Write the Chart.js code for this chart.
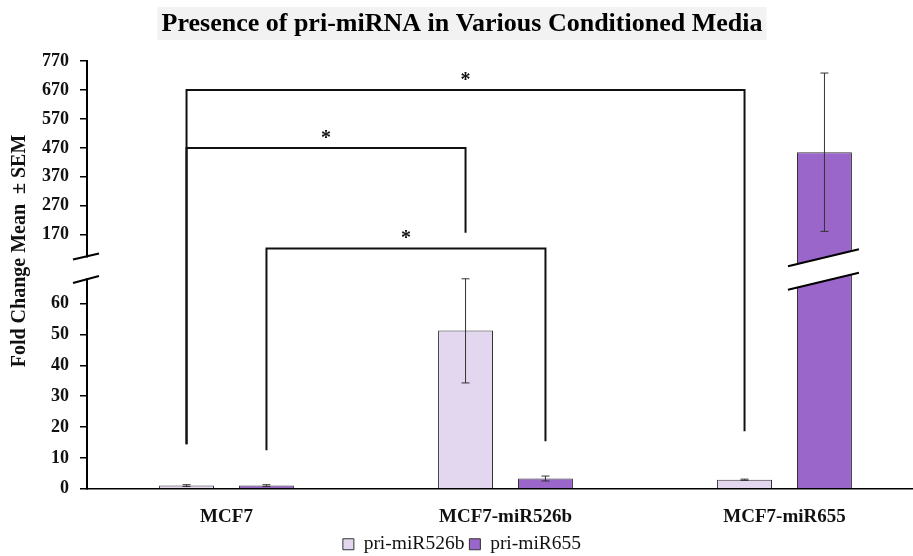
<!DOCTYPE html>
<html>
<head>
<meta charset="utf-8">
<script src="https://cdn.jsdelivr.net/npm/chart.js@4.4.1/dist/chart.umd.min.js"></script>
<style>
  html, body { margin: 0; padding: 0; background: #fff; overflow: hidden; }
  #wrap { width: 924px; height: 556px; }
</style>
</head>
<body>
<div id="wrap"><canvas id="mediaChart"></canvas></div>
<script>
// Data
const categories = ['MCF7', 'MCF7-miR526b', 'MCF7-miR655'];
const seriesNames = ['pri-miR526b', 'pri-miR655'];
const miR526bMean = [1.0, 51.3, 2.9];
const miR526bSem = [0.3, 17.0, 0.2];
const miR655Mean = [1.0, 3.3, 455];
const miR655Sem = [0.3, 0.8, 274];
const lowerTicks = [0, 10, 20, 30, 40, 50, 60];
const upperTicks = [170, 270, 370, 470, 570, 670, 770];

// significance brackets: [dataset, category] at each end, bar level, leg end values
const bracketStart = [[0, 0], [0, 0], [1, 0]];
const bracketEnd = [[0, 2], [0, 1], [1, 1]];
const bracketLevel = [670, 470, 122];
const bracketLegs = [[14.4, 18.6], [14.4, 176], [12.5, 15.4]];
const bracketMark = ['*', '*', '*'];

// broken axis: 0..breakLow below, breakHigh..770 above
const breakLow = 68;
const breakHigh = 94;
const lowPart = 0.4904;
const highPart = 0.4569;

const serif = "'Liberation Serif', 'Times New Roman', serif";

function toDecimal(v) {
  if (v <= breakLow) return (v / breakLow) * lowPart;
  if (v >= breakHigh) return 1 - highPart + ((v - breakHigh) / (770 - breakHigh)) * highPart;
  return lowPart + ((v - breakLow) / (breakHigh - breakLow)) * (1 - lowPart - highPart);
}

class BrokenScale extends Chart.LinearScale {
  buildTicks() {
    return lowerTicks.concat(upperTicks).map(v => ({ value: v }));
  }
  getPixelForValue(value) {
    return this.getPixelForDecimal(toDecimal(value));
  }
  getValueForPixel(pixel) {
    const d = this.getDecimalForPixel(pixel);
    if (d <= lowPart) return d / lowPart * breakLow;
    if (d >= 1 - highPart) return breakHigh + (d - (1 - highPart)) / highPart * (770 - breakHigh);
    return breakLow + (d - lowPart) / (1 - lowPart - highPart) * (breakHigh - breakLow);
  }
}
BrokenScale.id = 'broken';
BrokenScale.defaults = Chart.LinearScale.defaults;
Chart.register(BrokenScale);

const sems = [miR526bSem, miR655Sem];

const overlay = {
  id: 'overlay',
  beforeDraw(chart) {
    // grey band behind the title
    const tb = chart.titleBlock;
    const ctx = chart.ctx;
    ctx.save();
    ctx.font = 'bold 26px ' + serif;
    const w = ctx.measureText(chart.options.plugins.title.text).width;
    const cx = tb.left + tb.width / 2;
    ctx.fillStyle = '#f2f2f2';
    ctx.fillRect(cx - w / 2 - 4, 7, w + 8, 33);
    ctx.restore();
  },
  afterDatasetsDraw(chart) {
    const ctx = chart.ctx;
    const y = chart.scales.y;
    ctx.save();
    // error bars
    ctx.strokeStyle = '#333';
    ctx.lineWidth = 1;
    chart.data.datasets.forEach((ds, di) => {
      chart.getDatasetMeta(di).data.forEach((bar, i) => {
        const v = ds.data[i], e = sems[di][i];
        const yt = y.getPixelForValue(v + e), yb = y.getPixelForValue(v - e);
        ctx.beginPath();
        ctx.moveTo(bar.x, yt); ctx.lineTo(bar.x, yb);
        ctx.moveTo(bar.x - 4, yt); ctx.lineTo(bar.x + 4, yt);
        ctx.moveTo(bar.x - 4, yb); ctx.lineTo(bar.x + 4, yb);
        ctx.stroke();
      });
    });
    // significance brackets
    ctx.strokeStyle = '#111';
    ctx.lineWidth = 2;
    ctx.fillStyle = '#111';
    ctx.font = 'bold 20px ' + serif;
    ctx.textAlign = 'center';
    ctx.textBaseline = 'alphabetic';
    bracketLevel.forEach((lvl, k) => {
      const a = chart.getDatasetMeta(bracketStart[k][0]).data[bracketStart[k][1]];
      const b = chart.getDatasetMeta(bracketEnd[k][0]).data[bracketEnd[k][1]];
      const yl = y.getPixelForValue(lvl);
      ctx.beginPath();
      ctx.moveTo(a.x, y.getPixelForValue(bracketLegs[k][0]));
      ctx.lineTo(a.x, yl);
      ctx.lineTo(b.x, yl);
      ctx.lineTo(b.x, y.getPixelForValue(bracketLegs[k][1]));
      ctx.stroke();
      ctx.fillText(bracketMark[k], (a.x + b.x) / 2, yl - 4);
    });
    // breaks through bars taller than the lower segment
    const yUp = y.getPixelForValue(breakHigh);
    const yLo = y.getPixelForValue(breakLow);
    chart.data.datasets.forEach((ds, di) => {
      chart.getDatasetMeta(di).data.forEach((bar, i) => {
        if (ds.data[i] <= breakHigh) return;
        const x0 = bar.x - bar.width / 2 - 9, x1 = bar.x + bar.width / 2 + 7;
        const s = 0.24;
        const up = x => yUp + 1 - (x - bar.x) * s;
        const lo = x => yLo + 2 - (x - bar.x) * s;
        ctx.fillStyle = '#fff';
        ctx.beginPath();
        ctx.moveTo(x0, up(x0)); ctx.lineTo(x1, up(x1));
        ctx.lineTo(x1, lo(x1)); ctx.lineTo(x0, lo(x0));
        ctx.closePath();
        ctx.fill();
        ctx.strokeStyle = '#000';
        ctx.lineWidth = 2;
        ctx.beginPath();
        ctx.moveTo(x0, up(x0)); ctx.lineTo(x1, up(x1));
        ctx.moveTo(x0, lo(x0)); ctx.lineTo(x1, lo(x1));
        ctx.stroke();
      });
    });
    // break in the y axis line
    const ax = chart.chartArea.left;
    ctx.fillStyle = '#fff';
    ctx.fillRect(ax - 3, yUp + 1, 6, yLo - yUp - 2);
    ctx.strokeStyle = '#000';
    ctx.lineWidth = 2;
    ctx.beginPath();
    ctx.moveTo(ax - 14, yUp + 3); ctx.lineTo(ax + 12, yUp - 3);
    ctx.moveTo(ax - 14, yLo + 4); ctx.lineTo(ax + 12, yLo - 3);
    ctx.stroke();
    ctx.restore();
  },
  afterDraw(chart) {
    const ctx = chart.ctx;
    ctx.save();
    ctx.translate(20, 251);
    ctx.rotate(-Math.PI / 2);
    ctx.font = 'bold 20px ' + serif;
    ctx.fillStyle = '#111';
    ctx.textAlign = 'center';
    ctx.textBaseline = 'middle';
    ctx.fillText('Fold Change Mean  \u00b1 SEM', 0, 0);
    ctx.restore();
  }
};

new Chart(document.getElementById('mediaChart'), {
  type: 'bar',
  data: {
    labels: categories,
    datasets: [{
      label: seriesNames[0],
      data: miR526bMean,
      backgroundColor: '#e3d7ef',
      borderColor: '#333',
      borderWidth: 1
    }, {
      label: seriesNames[1],
      data: miR655Mean,
      backgroundColor: '#9a66c9',
      borderColor: '#333',
      borderWidth: 1
    }]
  },
  options: {
    responsive: true,
    maintainAspectRatio: false,
    animation: false,
    barPercentage: 0.6875,
    categoryPercentage: 0.573,
    layout: { padding: { left: 0, right: 0, top: 0, bottom: -8 } },
    scales: {
      x: {
        afterFit(s) { s.height -= 16; },
        grid: { drawOnChartArea: false, drawTicks: false },
        border: { color: '#000', width: 1.5 },
        ticks: { color: '#111', font: { family: serif, size: 19, weight: 'bold' }, padding: 17 }
      },
      y: {
        type: 'broken',
        min: 0,
        max: 770,
        afterFit(s) { s.width = 87; },
        border: { color: '#000', width: 2 },
        grid: { drawOnChartArea: false, tickLength: 7, color: '#000', lineWidth: 1.5 },
        ticks: { color: '#111', autoSkip: false, padding: 11, font: { family: serif, size: 18, weight: 'bold' } }
      }
    },
    plugins: {
      title: {
        display: true,
        text: 'Presence of pri-miRNA in Various Conditioned Media',
        color: '#000',
        font: { family: serif, size: 26, weight: 'bold' },
        padding: { top: 9, bottom: 21 }
      },
      legend: {
        position: 'bottom',
        labels: {
          color: '#111',
          boxWidth: 11,
          boxHeight: 11,
          padding: 5,
          font: { family: serif, size: 19.5 }
        }
      },
      tooltip: { enabled: false }
    }
  },
  plugins: [overlay]
});
</script>
</body>
</html>
